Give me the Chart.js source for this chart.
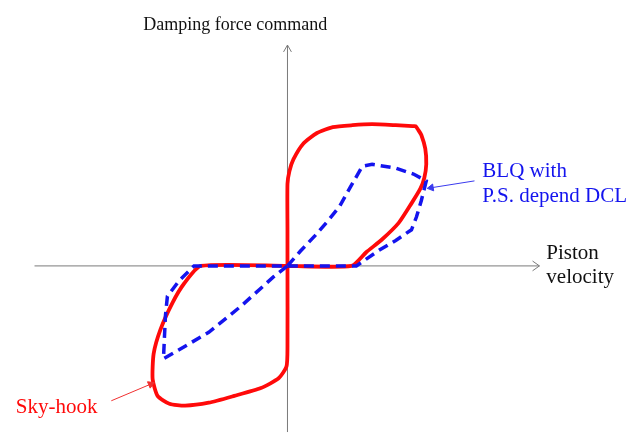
<!DOCTYPE html>
<html>
<head>
<meta charset="utf-8">
<script src="https://cdn.jsdelivr.net/npm/chart.js@4/dist/chart.umd.min.js"></script>
<style>
  html, body { margin: 0; padding: 0; background: #fff; }
  #wrap { width: 635px; height: 439px; }
</style>
</head>
<body>
<div id="wrap"><canvas id="myChart" width="635" height="439"></canvas></div>
<script>
// Sky-hook loop: piston velocity vs damping force command
const skyVel = [0, 0, 0, 2, 6, 16, 30, 46, 66, 86, 110, 127, 130, 133, 136, 140, 141, 139, 135, 126, 113, 96, 80, 65,
  0, -88, -105, -117, -129, -136, -137, -132, -120, -104, -80, -54, -27, -9, -1, 0, 0];
const skyForce = [0, 37, 84, 97, 109, 125, 136, 142, 144, 145, 144, 143, 143, 139, 134, 120, 104, 90, 79, 64, 44, 27, 14, 0,
  0, 0, -18, -38, -65, -90, -116, -133, -141, -143, -140, -133, -125, -115, -103, -83, 0];

// BLQ with P.S. dependent DCL
const blqVel = [0, 13, 28, 41, 53, 63, 76, 86, 110, 128, 141, 136, 131, 126, 110, 93, 80, 70,
  0, -95, -110, -122, -124, -125, -126, -114, -80, -47, -14, 0];
const blqForce = [0, 15, 31, 46, 61, 79, 102, 104, 100, 94, 87, 67, 50, 37, 26, 16, 7, 0,
  0, 0, -15, -31, -51, -73, -95, -88, -68, -41, -11, 0];

// axis extents and label text
const axisX = [-257, 256];
const axisY = [-170, 226];
const yTitle = 'Damping force command';
const xTitle = ['Piston', 'velocity'];
const blqLabel = ['BLQ with', 'P.S. depend DCL'];
const skyLabel = 'Sky-hook';

function pts(xs, ys) {
  return xs.map((x, i) => ({x: x, y: ys[i]}));
}

const RED = '#ff0a0a';
const BLUE = '#1414ee';
const GREY = '#7a7a7a';
const SERIF = '"Liberation Serif", "Times New Roman", serif';

function line(data, color, width, extra) {
  return Object.assign({
    data: data,
    showLine: true,
    borderColor: color,
    backgroundColor: color,
    borderWidth: width,
    pointRadius: 0,
    tension: 0,
    fill: false
  }, extra || {});
}

// text drawn at value positions
const textPlugin = {
  id: 'texts',
  afterDraw(chart) {
    const c = chart.ctx;
    const xs = chart.scales.x, ys = chart.scales.y;
    const put = (s, x, y, color, align, size) => {
      c.font = size + 'px ' + SERIF;
      c.fillStyle = color;
      c.textAlign = align;
      c.fillText(s, xs.getPixelForValue(x), ys.getPixelForValue(y));
    };
    c.save();
    c.textBaseline = 'middle';
    put(yTitle, -53, 246, '#111', 'center', 18);
    put(xTitle[0], 263, 13, '#111', 'left', 21);
    put(xTitle[1], 263, -12, '#111', 'left', 21);
    put(blqLabel[0], 198, 97, BLUE, 'left', 21);
    put(blqLabel[1], 198, 71, BLUE, 'left', 21);
    put(skyLabel, -276, -145, RED, 'left', 21);
    c.restore();
  }
};

new Chart(document.getElementById('myChart'), {
  type: 'scatter',
  data: {
    datasets: [
      line(pts(blqVel, blqForce), BLUE, 3.5, {borderDash: [10, 6], order: 0}),
      line(pts(skyVel, skyForce), RED, 3.8, {tension: 0.2, order: 1}),
      // axes with open arrowheads
      line(pts(axisX, [0, 0]), GREY, 1, {order: 2}),
      line(pts([axisX[1] - 7, axisX[1], axisX[1] - 7], [5, 0, -5]), GREY, 1, {order: 2}),
      line(pts([0, 0], axisY), GREY, 1, {order: 2}),
      line(pts([-4, 0, 4], [axisY[1] - 7, axisY[1], axisY[1] - 7]), GREY, 1, {order: 2}),
      // pointer arrows to the curves
      line(pts([190, 146], [87, 80]), '#3a3aee', 1, {
        order: 0, pointStyle: 'triangle', pointRadius: [0, 4], pointRotation: 261
      }),
      line(pts([-179, -139], [-138, -121]), '#f03030', 1, {
        order: 0, pointStyle: 'triangle', pointRadius: [0, 4], pointRotation: 67
      })
    ]
  },
  options: {
    responsive: false,
    animation: false,
    layout: {padding: 0},
    plugins: {legend: {display: false}, tooltip: {enabled: false}},
    scales: {
      x: {type: 'linear', display: false, min: -287, max: 348},
      y: {type: 'linear', display: false, min: -172, max: 267}
    }
  },
  plugins: [textPlugin]
});
</script>
</body>
</html>
